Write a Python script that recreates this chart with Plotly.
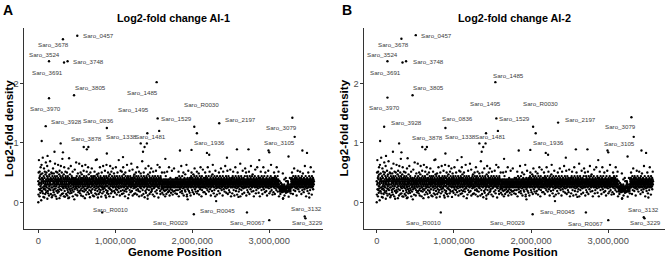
import numpy as np
import plotly.graph_objects as go

# ---------------- data ----------------
genome_ticks = [0, 1_000_000, 2_000_000, 3_000_000]
value_ticks = [0, 1, 2]

gene_names = ["Saro_0457", "Saro_3678", "Saro_3524", "Saro_3748", "Saro_3691", "Saro_1485",
              "Saro_3805", "Saro_3970", "Saro_1495", "Saro_R0030", "Saro_1529", "Saro_2197",
              "Saro_3079", "Saro_1936", "Saro_3105", "Saro_3928", "Saro_0836", "Saro_3878",
              "Saro_1338", "Saro_1481", "Saro_R0010", "Saro_R0029", "Saro_R0045", "Saro_R0067",
              "Saro_3132", "Saro_3229"]
gene_pos = [506000, 320000, 139000, 380000, 334000, 1537000, 464000, 139000, 1570000, 2026000,
            1550000, 2350000, 3300000, 2060000, 3330000, 96000, 890000, 590000, 1330000, 1416000,
            830000, 2020000, 2710000, 3000000, 3460000, 3470000]
lfc_ai1 = [2.80, 2.74, 2.37, 2.37, 2.35, 2.02, 1.80, 1.75, 1.20, 1.27, 1.41, 1.33, 1.42, 1.16,
           1.10, 1.28, 1.25, 0.93, 0.99, 1.16, -0.17, -0.20, -0.17, -0.30, -0.24, -0.27]
lfc_ai2 = [2.81, 2.75, 2.37, 2.37, 2.35, 2.02, 1.80, 1.76, 1.20, 1.27, 1.41, 1.34, 1.43, 1.16,
           1.10, 1.27, 1.25, 0.93, 0.99, 1.16, -0.17, -0.20, -0.17, -0.30, -0.25, -0.27]

# unlabelled genes sitting above / below the main band
high_pos = [44000, 210000, 290000, 320000, 630000, 650000, 890000, 1360000, 1380000, 1410000,
            1840000, 1990000, 2190000, 2220000, 2580000, 2730000, 2990000, 3000000, 3430000, 3490000,
            120000, 400000, 760000, 1100000, 1650000, 2450000, 2870000, 3250000]
high_lfc = [1.03, 0.85, 0.99, 0.84, 0.89, 0.93, 0.82, 0.85, 0.93, 0.99,
            0.87, 0.88, 0.83, 0.80, 0.89, 0.89, 0.87, 0.84, 0.87, 0.83,
            0.78, 0.74, 0.72, 0.76, 0.73, 0.75, 0.71, 0.77]
low_pos = [0, 390000, 880000, 1420000, 1930000, 1940000, 2310000, 2600000, 3180000, 3520000]
low_lfc = [0.00, 0.07, 0.08, 0.06, 0.10, 0.05, 0.02, 0.09, 0.07, 0.08]

# main band of genes, ordered along the genome; each letter is one gene's log2-fold value,
# looked up in the code table below
cloud_levels = "abcdefghijklmnopqrstuvwxyzABCDEFGHIJKLMNOPQRSTUVWXYZ"
cloud_level_values = [0.00, 0.02, 0.035, 0.05, 0.06, 0.07, 0.08, 0.085, 0.09, 0.095,
                      0.10, 0.115, 0.13, 0.14, 0.15, 0.16, 0.17, 0.18,
                      0.19, 0.205, 0.22, 0.235, 0.25,
                      0.27, 0.30, 0.325, 0.355, 0.385, 0.41, 0.44, 0.47,
                      0.485, 0.50, 0.515, 0.53, 0.55,
                      0.57, 0.59, 0.61, 0.63, 0.65, 0.67, 0.69, 0.71,
                      0.73, 0.75, 0.77, 0.79, 0.81, 0.83, 0.86, 0.90]
cloud_rows = [
    "AmGyRuzCkHDtBpxLEvzcyNAsCrFBwTBoziADuKxgCvHyAnzEtPxBqGAwDyMezCsAoByIvAlDxEuBzQyAtCnAyGwBhF",
    "BwDlyAKtzCqFAxuBmzDOyAvCkBHxsAezDyGApBtNCzwAryEBfIxAuDBlzMCyAtBGnxzSDwAoyCvBEkxLzAsBjyCHwD",
    "xAnzByvGClAtyDqBxKwzAgCyuBoEzAsxMBzAvpDyCAtyHkBzwArxCyBdAuJzByAmwCxPzAvDyBlAtzFxBAqyCwzOAs",
    "DyAoBxGtzClAvBEyMzAsxCkBwAIyDrzAuBfxCNyAtBzmDAHvyCxAqBzLwAyEnBxtCAyhzBGwAszDpyBKCxAuzBlyDA",
    "ByCkAwzHxDtAoBzRyCvAmxBEzAsyDgBwAFnCzxuAyBLqAzDtxCAjByGwzAoCxuBMAzyrDAwBvCzIxAlByAtDzNCxpA",
    "AxsCzGBnyADvwBkzAEyMuCxAoBzHtAyDrBxAKzwCiAyBFsxzDApBCywALuzABxmDyAtGzCAwBqxRzAvyDAlBzCxIsA",
    "zBwAyHnDxCAtzBLoyAEwxCsBzAkyGADuxBzrAyCNAwBvzDfxAyCmBzAItyxBDAqzwCyOBxAszByJlCxAzBvDyAnEwx",
    "CAyoBzwGxDtAzBmyLCxAuBzDsAyHkxBCAzrwyAFBxvDAzlByQACtxzBAnyGDwAzBhxCyAsKBzpAxDyuCAzBwlyEAxM",
    "yBtAzDnxCGAwBzqyAKxCsuBAzyDmxAHBzvCyAkwBxADzrByAIxCzBtoAyxNBDAwzgyBCvAxzLBysAnDCzAyBuwxGAp",
    "xzwAyvBmztyAxGzsBwkAyzDtxBnwAzyHxuAzqBwyxAzLsyBlzwAxCuyzpAxBwzIytAxmBzyrwAxzKBysyzAwxoByCtz",
    "AyzBnwxCzAtyBxHzkAwDyzBuxAqCyzBwMxAzsyDoAxzBvyGAlzBwxCyAtzErByAxzwNBymzAxCuByzIwAxsBzyApCx",
    "BzAlyCwDxGzBAtyxCqAzBEwyAnzDxKBAuyzCxrABwzDyHAoxBzCsyAxBFwzmAyDBxuzALyCwBAkxzDtAyBzJxwAqCy",
    "zAyBqxwCGAyzBnDxAvyBzCAtxLByAzwDrxABzHyAuxzCBlyAwDzBxsAyEzNAxCyBozAwtDyBAzkIxCyAvzBxAmDwyB",
    "yBzAsxCwGzByAoxDzvBAyKzCxAtwByAzlDxBHyAuzxCBAryzwMByAxDzpvACzByIxAnwzBDyAxtzCBqAyzJxBwAkzC",
    "AzByxoCwDAzHyBtxAzClyBwAzLxDysAzBvCxAmzyGBAwxzDrAyCBzuxAyOkBzAyDxtCBwzAnyIzBxAvCyzBpAxwDzK",
    "BzyAxGwlzBAyDtxCzAqByzwAHxBnzDAyxBuCzMAyxBrzDwAyExBzAsyCkxBAzyDwAJxzBoyAtCxBzwLAyBxzvDApyC",
    "zAyxBkwzCAyHBxzAtDzyBxnAwzCyLBAuzxDyBAqzxGyBwAzsCxBylAzDwBxAIzyBvxAozCyBAzrxDwNyBAtzxCyBmA",
    "zAyBqxwCGAyzBnDxAvyBzCAtxLByAzwDrxABzHyAkwyvAtruxnvswzrtxwvtyqsxuFevrwtxsuyBlsxtvwruCpvA",
    "twxsqwAryAvzxwtjyvruswtCxvusyowByAzxCGwzBAynxDzBtAyKzBxwCAsyDzAByvxlCzAwByIzxAuDyBzAxrCwyAH",
    "AzyBwxCnzADyBtxAzFwByAqzCxBuyAMzxBwDyAkzBxAvyCzsBAywGzxAoBDyzAxBtwCyLAzBxyAmDwzBAyxCuzBHyA",
]
cloud_first_pos, cloud_last_pos = 0, 3_580_000

cloud_lfc = [cloud_level_values[cloud_levels.index(c)] for row in cloud_rows for c in row]
cloud_pos = np.linspace(cloud_first_pos, cloud_last_pos, len(cloud_lfc))

# label placement (pixel offsets of each label from its point: dx right, dy down)
label_offsets_a = [(21, 0), (-9, 5), (-5, -7), (21, 0), (-17, 10), (-14, 10), (16, -8), (-4, 10),
                   (-26, -21), (7, -22), (19, 0), (21, -4), (-11, 10), (13, 9), (-15, 6), (21, -5),
                   (-8, -7), (3, -8), (-19, -7), (3, 3), (8, -3), (-23, 8), (-29, -2), (-22, 2),
                   (2, -8), (2, 4)]
label_offsets_b = [(21, 0), (-8, 6), (-5, -7), (22, 0), (-17, 10), (13, -7), (16, -8), (-3, 10),
                   (-12, -27), (7, -23), (18, 0), (22, -3), (-11, 9), (13, 9), (-14, 7), (22, -4),
                   (12, -9), (5, -9), (-19, -7), (4, 3), (-17, 10), (-25, 8), (-28, -1), (-23, 3),
                   (0, -8), (1, 4)]

# ---------------- figure ----------------
FONT = "Liberation Sans, Arial, sans-serif"
W, H = 669, 258
fig = go.Figure()

panels = [
    dict(xa="x", ya="y", vals=lfc_ai1, offs=label_offsets_a),
    dict(xa="x2", ya="y2", vals=lfc_ai2, offs=label_offsets_b),
]
annotations = []
bg_x = list(cloud_pos) + high_pos + low_pos
bg_y = cloud_lfc + high_lfc + low_lfc
for p in panels:
    fig.add_trace(go.Scatter(x=bg_x, y=bg_y, mode="markers", xaxis=p["xa"], yaxis=p["ya"],
                             marker=dict(color="black", size=2.35, line=dict(width=0)),
                             showlegend=False, hoverinfo="skip"))
    fig.add_trace(go.Scatter(x=gene_pos, y=p["vals"], mode="markers", xaxis=p["xa"], yaxis=p["ya"],
                             marker=dict(color="black", size=2.4, line=dict(width=0)),
                             showlegend=False, text=gene_names))
    for name, gx, gy, (dx, dy) in zip(gene_names, gene_pos, p["vals"], p["offs"]):
        annotations.append(dict(x=gx, y=gy, xref=p["xa"], yref=p["ya"], text=name, showarrow=False,
                                xshift=dx, yshift=-dy, font=dict(size=6.2, color="#3c3c3c", family=FONT)))

def px(x):
    return x / W

def py(y):
    return (H - y) / H

texts = [
    ("A", 8, 10, 14), ("B", 346.5, 10, 14),
    ("Log2-fold change AI-1", 173, 18, 10.8), ("Log2-fold change AI-2", 514.5, 18, 10.8),
    ("Genome Position", 175, 251.5, 11.4), ("Genome Position", 511, 251.5, 11.4),
]
for t, x, y, s in texts:
    annotations.append(dict(x=px(x), y=py(y), xref="paper", yref="paper", text="<b>%s</b>" % t,
                            showarrow=False, xanchor="center", yanchor="middle",
                            font=dict(size=s, color="black", family=FONT)))
for x in (8.5, 343):
    annotations.append(dict(x=px(x), y=py(128.5), xref="paper", yref="paper", text="<b>Log2-fold density</b>",
                            showarrow=False, textangle=-90, xanchor="center", yanchor="middle",
                            font=dict(size=11.6, color="black", family=FONT)))

axis_common = dict(showline=True, linecolor="#333333", linewidth=1.1, ticks="outside", ticklen=2.5,
                   tickwidth=1, tickcolor="#333333", showgrid=False, zeroline=False,
                   tickfont=dict(size=9.3, color="#4d4d4d", family=FONT))
ydom = [py(229), py(28)]
fig.update_layout(
    width=W, height=H, margin=dict(l=0, r=0, t=0, b=0),
    paper_bgcolor="white", plot_bgcolor="white", font=dict(family=FONT),
    xaxis=dict(domain=[px(24), px(322.7)], range=[-186000, 3694000], tickvals=genome_ticks,
               tickformat=",", anchor="y", **axis_common),
    yaxis=dict(domain=ydom, range=[-0.449, 2.93], tickvals=value_ticks, anchor="x", **axis_common),
    xaxis2=dict(domain=[px(364), px(665)], range=[-165000, 3735000], tickvals=genome_ticks,
                tickformat=",", anchor="y2", **axis_common),
    yaxis2=dict(domain=ydom, range=[-0.449, 2.93], tickvals=value_ticks, anchor="x2", **axis_common),
    annotations=annotations,
)

fig.write_html("out.html", config={"displayModeBar": False},
               post_script="document.body.style.margin='0';document.body.style.padding='0';"
                           "document.body.style.overflow='hidden';")
